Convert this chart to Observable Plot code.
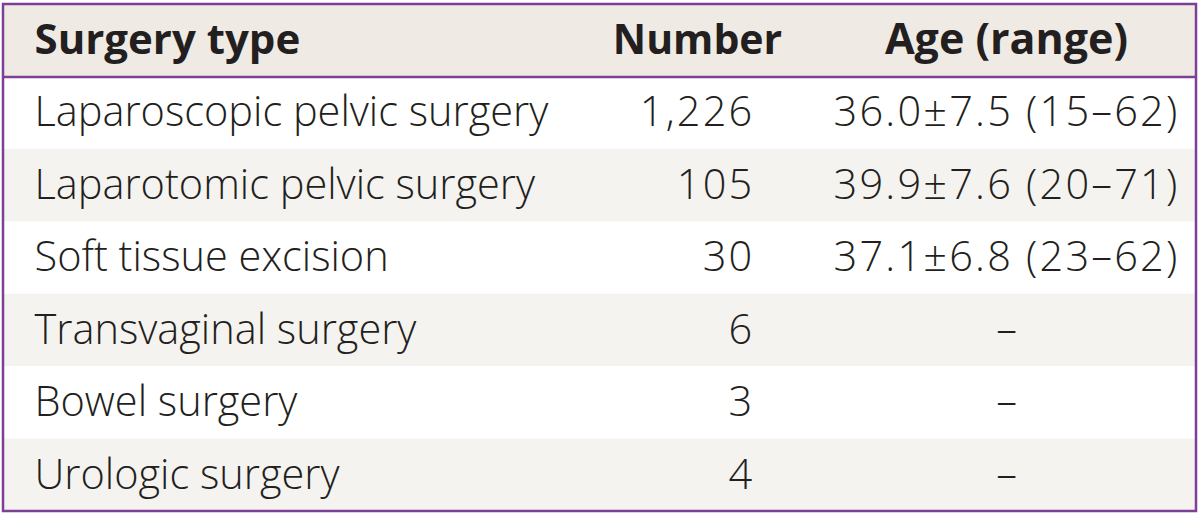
<!DOCTYPE html>
<html><head><meta charset="utf-8">
<script src="https://cdn.jsdelivr.net/npm/d3@7"></script>
<script src="https://cdn.jsdelivr.net/npm/@observablehq/plot@0.6"></script>
<style>body{margin:0;background:#fff}</style>
</head><body><div id="chart"></div>
<script>
const headers = ["Surgery type", "Number", "Age (range)"];
const surgeryTypes = ["Laparoscopic pelvic surgery","Laparotomic pelvic surgery","Soft tissue excision","Transvaginal surgery","Bowel surgery","Urologic surgery"];
const numbers = [1226, 105, 30, 6, 3, 4];
const ageLabels = ["36.0±7.5 (15–62)","39.9±7.6 (20–71)","37.1±6.8 (23–62)","–","–","–"];

const rows = surgeryTypes.map((t, i) => ({i: i + 1, type: t, number: d3.format(",")(numbers[i]), age: ageLabels[i]}));
const layout = {typeX: 34, numHeadX: 697, numX: 754, ageX: 1006};
const font = "'Open Sans', 'Noto Sans', sans-serif";
const ink = "#231f20";
const purple = "#7e3f97";

const chart = Plot.plot({
  width: 1200, height: 516,
  x: {domain: [0, 1200], range: [0, 1200], axis: null},
  y: {domain: [0, 7], range: [4, 511], axis: null},
  style: {fontFamily: font, background: "#fff"},
  marks: [
    Plot.rectY([0], {x1: 3, x2: 1196, y1: 0, y2: 1, fill: "#efebe4"}),
    Plot.rectY(rows.filter(d => d.i % 2 === 0), {x1: 3, x2: 1196, y1: d => d.i, y2: d => d.i + 1, fill: "#f5f3ef"}),
    Plot.ruleY([1], {x1: 3, x2: 1196, stroke: purple, strokeWidth: 2.5}),
    Plot.text([headers[0]], {x: layout.typeX, y: 0.5, text: d => d, textAnchor: "start", fontSize: 42, fontWeight: "bold", fill: ink}),
    Plot.text([headers[1]], {x: layout.numHeadX, y: 0.5, text: d => d, textAnchor: "middle", fontSize: 41, fontWeight: "bold", fill: ink}),
    Plot.text([headers[2]], {x: layout.ageX, y: 0.5, text: d => d, textAnchor: "middle", fontSize: 43, fontWeight: "bold", fill: ink}),
    Plot.text(rows, {x: layout.typeX, y: d => d.i + 0.5, text: "type", textAnchor: "start", fontSize: 41.5, fontWeight: 300, fill: ink}),
    Plot.text(rows, {x: layout.numX, y: d => d.i + 0.5, text: "number", textAnchor: "end", fontSize: 41.5, fontWeight: 300, fill: ink}),
    Plot.text(rows, {x: layout.ageX, y: d => d.i + 0.5, text: "age", textAnchor: "middle", fontSize: 41.5, fontWeight: 300, fill: ink}),
    Plot.rectY([0], {x1: 3, x2: 1196, y1: 0, y2: 7, fill: "none", stroke: purple, strokeWidth: 2.5})
  ]
});
// widen digit spacing in the numeric columns to match the reference typeface
const numericSet = new Set([...rows.map(d => d.number), ...ageLabels.filter(a => a !== "–")]);
d3.select(chart).selectAll("text").filter(function() { return numericSet.has(this.textContent); })
  .style("letter-spacing", function() { return this.textContent.includes("±") ? "2.2px" : "2.2px"; });
document.getElementById("chart").append(chart);
</script></body></html>
